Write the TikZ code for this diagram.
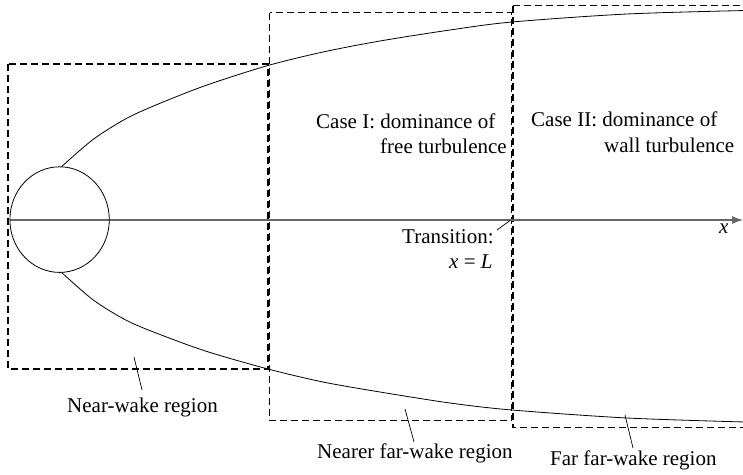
\documentclass[tikz,border=0pt]{standalone}
\usepackage{fontspec}
\setmainfont{Liberation Serif}
\usetikzlibrary{arrows.meta,shapes.geometric}
\begin{document}
\begin{tikzpicture}[x=1pt,y=-1pt,
  region/.style={draw=black,line width=1.1pt,dash pattern=on 7pt off 4pt},
  wake/.style={draw=black,line width=0.8pt},
  leader/.style={draw=black,line width=0.7pt},
  axisline/.style={draw=black!60,line width=1.2pt},
  lbl/.style={inner sep=0pt,anchor=base west,font=\fontsize{21}{24}\selectfont}]
\useasboundingbox (0,0) rectangle (743,474);
% regions
\draw[region] (8,64) rectangle (268,369);
\draw[region] (269.5,12.5) rectangle (511.5,420.5);
\draw[region] (513,5.5) -- (760,5.5);
\draw[region] (513,5.5) -- (513,427.5) -- (760,427.5);
% axis
\coordinate (a0) at (10,220);
\coordinate (a1) at (743,220);
\draw[axisline,-{Latex[length=11pt,width=8pt]}] (a0) -- (a1);
% body
\node[draw=black,line width=0.8pt,ellipse,minimum width=99.4pt,minimum height=105.6pt,inner sep=0pt] (body) at (59.6,219.6) {};
% wake edges
\draw[wake] plot[smooth,tension=0.5] coordinates {(61.7,166.5) (93.3,139.3) (126.7,118.3) (160,103.3) (207,85) (268,65.5) (323,52) (380,41) (450,30) (512,22) (627,14) (745,10.5)};
\draw[wake] plot[smooth,tension=0.5] coordinates {(61.7,272.5) (93.3,300) (126.7,320.5) (160,334.5) (207,351.5) (268,369) (323,382) (380,392) (450,403) (512,410) (627,418) (745,422)};
% labels
\node[lbl] (c1a) at (316,128) {Case I: dominance of};
\node[lbl] (c1b) at (380,153) {free turbulence};
\node[lbl] (c2a) at (531,126) {Case II: dominance of};
\node[lbl] (c2b) at (604,152) {wall turbulence};
\node[lbl] (tr) at (402,243) {Transition:};
\node[lbl] (xl) at (449,268) {\textit{x} = \textit{L}};
\node[lbl] (xax) at (719,233) {\textit{x}};
\node[lbl] (nw) at (67,412) {Near-wake region};
\node[lbl] (nfw) at (317,458) {Nearer far-wake region};
\node[lbl] (ffw) at (550,465) {Far far-wake region};
% leaders
\coordinate (l1a) at (134,357); \coordinate (l1b) at (142,390);
\coordinate (l2a) at (405,409); \coordinate (l2b) at (414,442);
\coordinate (l3a) at (625,415); \coordinate (l3b) at (633,448);
\coordinate (l4a) at (497,230); \coordinate (l4b) at (510,220.5);
\draw[leader] (l1a) -- (l1b);
\draw[leader] (l2a) -- (l2b);
\draw[leader] (l3a) -- (l3b);
\draw[leader] (l4a) -- (l4b);
\end{tikzpicture}
\end{document}
